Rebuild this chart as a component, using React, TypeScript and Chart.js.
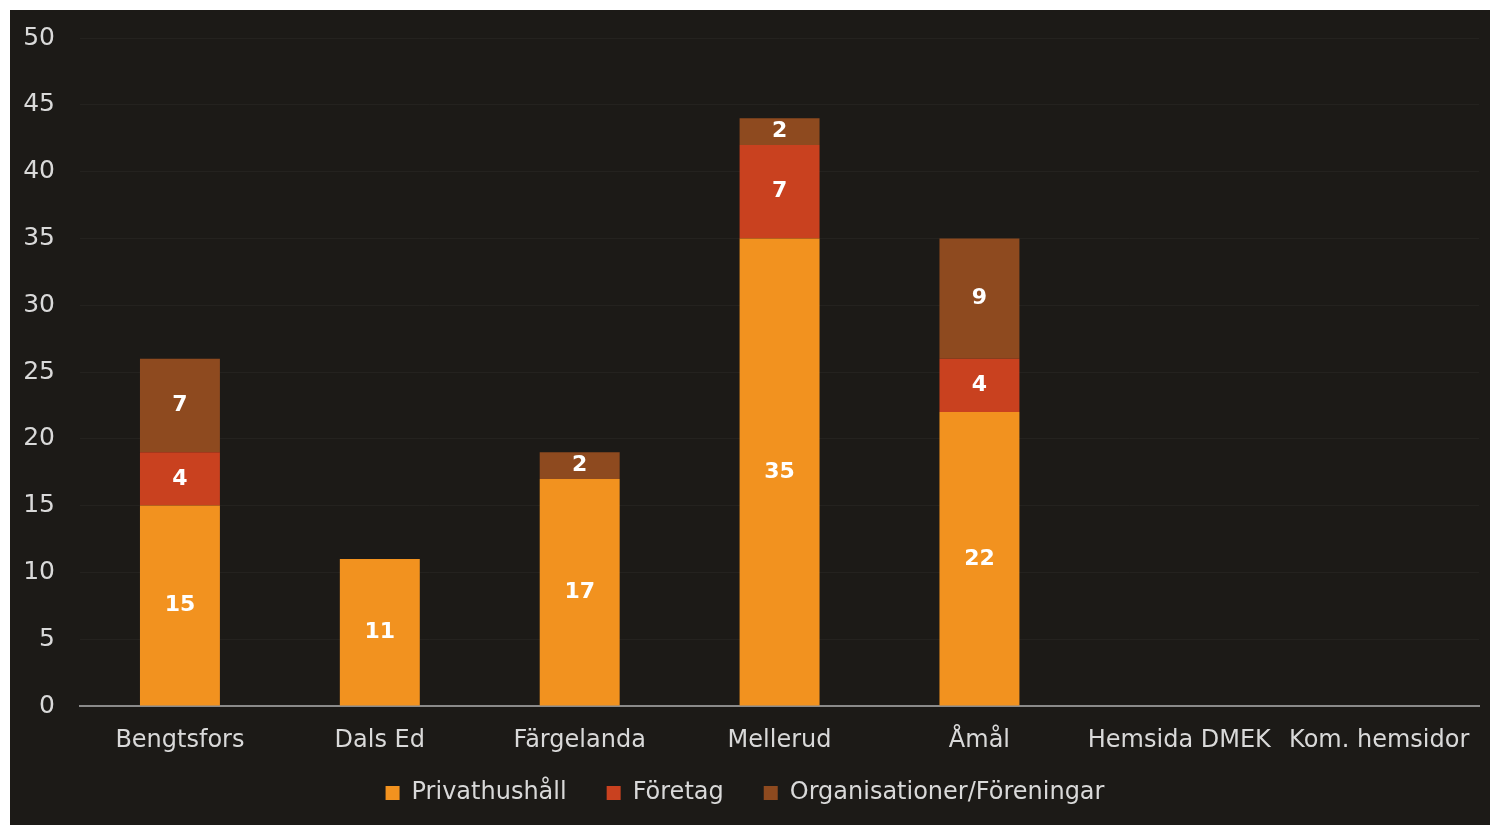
import React, { useEffect, useRef } from "react";
import { Chart, registerables } from "chart.js";

Chart.register(...registerables);

const categories = ["Bengtsfors", "Dals Ed", "Färgelanda", "Mellerud", "Åmål", "Hemsida DMEK", "Kom. hemsidor"];
const privathushall = [15, 11, 17, 35, 22, 0, 0];
const foretag = [4, 0, 0, 7, 4, 0, 0];
const organisationer = [7, 0, 2, 2, 9, 0, 0];
const seriesNames = ["Privathushåll", "Företag", "Organisationer/Föreningar"];
const seriesColors = ["#f2921f", "#c9411f", "#8e4a1f"];

const FONT = "'DejaVu Sans', sans-serif";

const valueLabels = {
  id: "valueLabels",
  afterDatasetsDraw(chart: any) {
    const ctx = chart.ctx;
    ctx.save();
    ctx.font = `bold 22px ${FONT}`;
    ctx.fillStyle = "#ffffff";
    ctx.textAlign = "center";
    ctx.textBaseline = "middle";
    chart.data.datasets.forEach((ds: any, i: number) => {
      const meta = chart.getDatasetMeta(i);
      meta.data.forEach((bar: any, j: number) => {
        const v = ds.data[j];
        if (!v) return;
        const p = bar.getProps(["x", "y", "base"], true);
        ctx.fillText(String(v), p.x, (p.y + p.base) / 2);
      });
    });
    ctx.restore();
  },
};

// move the legend a little closer to the axis labels
const legendShift = {
  id: "legendShift",
  afterLayout(chart: any) {
    const lg = chart.legend;
    if (lg) {
      lg.top -= 15;
      lg.bottom -= 15;
    }
  },
};

export default function App() {
  const ref = useRef<HTMLCanvasElement>(null);
  useEffect(() => {
    if (!ref.current) return;
    const chart = new Chart(ref.current, {
      type: "bar",
      data: {
        labels: categories,
        datasets: [
          { label: seriesNames[0], data: privathushall, backgroundColor: seriesColors[0] },
          { label: seriesNames[1], data: foretag, backgroundColor: seriesColors[1] },
          { label: seriesNames[2], data: organisationer, backgroundColor: seriesColors[2] },
        ],
      },
      options: {
        animation: false,
        responsive: true,
        maintainAspectRatio: false,
        layout: { padding: { top: 28, right: 10, bottom: 0, left: 0 } },
        datasets: { bar: { barPercentage: 0.4, categoryPercentage: 1 } },
        plugins: {
          tooltip: { enabled: false },
          legend: {
            position: "bottom",
            maxHeight: 69,
            labels: {
              color: "#d9d9d9",
              font: { family: FONT, size: 24 },
              boxWidth: 14,
              boxHeight: 14,
              padding: 40,
            },
          },
        },
        scales: {
          x: {
            stacked: true,
            afterFit: (s: any) => { s.height = 50; },
            grid: { display: false, drawTicks: false },
            border: { display: true, color: "#8a8a8a", width: 2 },
            ticks: { color: "#d9d9d9", font: { family: FONT, size: 24 }, padding: 20, maxRotation: 0, autoSkip: false },
          },
          y: {
            stacked: true,
            min: 0,
            max: 50,
            afterFit: (s: any) => { s.width = 70; s.paddingTop = 16; s.paddingBottom = 16; },
            grid: { color: "rgba(255,255,255,0.035)", drawTicks: false },
            border: { display: false },
            ticks: { stepSize: 5, color: "#d9d9d9", font: { family: FONT, size: 25 }, padding: 25 },
          },
        },
      },
      plugins: [valueLabels, legendShift],
    });
    return () => chart.destroy();
  }, []);
  return (
    <div style={{ position: "absolute", left: 10, top: 10, width: 1480, height: 815, background: "#1c1a17" }}>
      <canvas ref={ref} />
    </div>
  );
}
